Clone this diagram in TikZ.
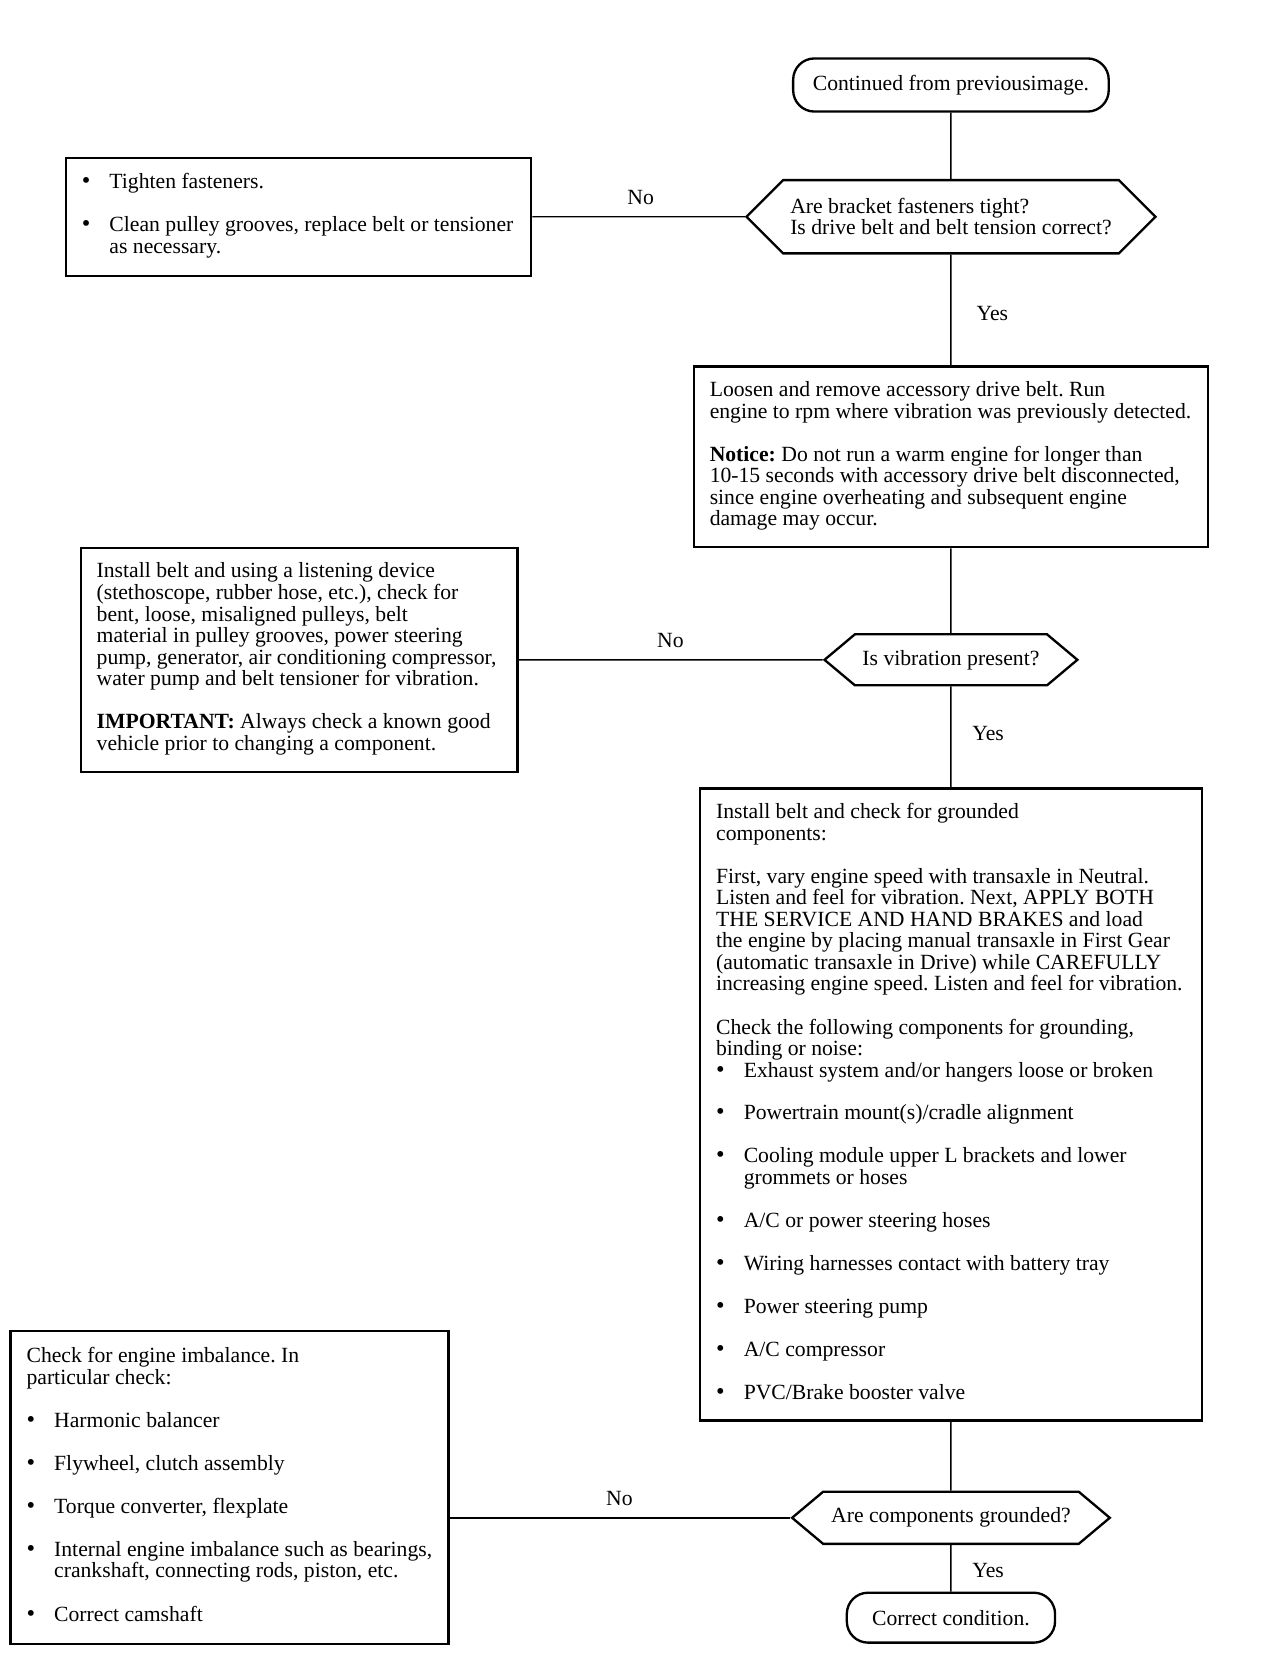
\documentclass[tikz,border=0pt]{standalone}
\usepackage{fontspec}
\setmainfont{Liberation Serif}
\usepackage{tikz}
\usetikzlibrary{shapes.symbols}

\newcommand{\bul}{\makebox[13pt][l]{\fontsize{11.5}{10}\selectfont\textbullet}}
\newcommand{\ind}{\hspace*{13pt}}
\newcommand{\skipline}{\\[10.1pt]}
\newcommand{\boxlines}[2]{\makebox[#1][l]{\begin{tabular}{@{}l@{}}#2\end{tabular}}}

\begin{document}
\begin{tikzpicture}[x=0.5pt,y=-0.5pt,
  every node/.style={font=\fontsize{10.2}{10.1}\selectfont\frenchspacing},
  box/.style={draw,line width=1.1pt,inner xsep=7.5pt,inner ysep=3pt},
  decision/.style={draw,line width=1.1pt,signal,signal to=west and east,inner sep=2pt,align=left},
  terminal/.style={draw,line width=1.1pt,rounded corners=10pt,inner sep=2pt},
  link/.style={line width=0.7pt}]
\useasboundingbox (0,0) rectangle (1190,1568);
% right column
\node[terminal,minimum width=148.5pt,minimum height=25pt] (cont) at (895,80) {Continued from previousimage.};
\node[decision,minimum width=192.5pt,minimum height=34.5pt,signal pointer angle=90] (brackets) at (895,204)
  {Are bracket fasteners tight?\\Is drive belt and belt tension correct?};
\node[box,minimum height=85pt] (loosen) at (895,430) {\boxlines{227pt}{%
Loosen and remove accessory drive belt. Run\\
engine to rpm where vibration was previously detected.\skipline
\textbf{Notice:} Do not run a warm engine for longer than\\
10-15 seconds with accessory drive belt disconnected,\\
since engine overheating and subsequent engine\\
damage may occur.}};
\node[decision,minimum width=119pt,minimum height=24pt,signal pointer angle=80] (vibration) at (895,621) {Is vibration present?};
\node[box,minimum height=297.5pt] (grounded) at (895,1039.5) {\boxlines{221pt}{%
Install belt and check for grounded\\
components:\skipline
First, vary engine speed with transaxle in Neutral.\\
Listen and feel for vibration. Next, APPLY BOTH\\
THE SERVICE AND HAND BRAKES and load\\
the engine by placing manual transaxle in First Gear\\
(automatic transaxle in Drive) while CAREFULLY\\
increasing engine speed. Listen and feel for vibration.\skipline
Check the following components for grounding,\\
binding or noise:\\
\bul Exhaust system and/or hangers loose or broken\skipline
\bul Powertrain mount(s)/cradle alignment\skipline
\bul Cooling module upper L brackets and lower\\
\ind grommets or hoses\skipline
\bul A/C or power steering hoses\skipline
\bul Wiring harnesses contact with battery tray\skipline
\bul Power steering pump\skipline
\bul A/C compressor\skipline
\bul PVC/Brake booster valve}};
\node[decision,minimum width=149.5pt,minimum height=24.5pt,signal pointer angle=80] (grndq) at (895,1428.5) {Are components grounded?};
\node[terminal,minimum width=98pt,minimum height=23.5pt] (correct) at (895,1522.5) {Correct condition.};
% left column
\node[box,minimum height=55.5pt] (tighten) at (281,204) {\boxlines{204pt}{%
\bul Tighten fasteners.\skipline
\bul Clean pulley grooves, replace belt or tensioner\\
\ind as necessary.}};
\node[box,minimum height=105.5pt] (listen) at (281.5,621) {\boxlines{190.5pt}{%
Install belt and using a listening device\\
(stethoscope, rubber hose, etc.), check for\\
bent, loose, misaligned pulleys, belt\\
material in pulley grooves, power steering\\
pump, generator, air conditioning compressor,\\
water pump and belt tensioner for vibration.\skipline
\textbf{IMPORTANT:} Always check a known good\\
vehicle prior to changing a component.}};
\node[box,minimum height=147pt] (imbalance) at (216,1400) {\boxlines{191pt}{%
Check for engine imbalance. In\\
particular check:\skipline
\bul Harmonic balancer\skipline
\bul Flywheel, clutch assembly\skipline
\bul Torque converter, flexplate\skipline
\bul Internal engine imbalance such as bearings,\\
\ind crankshaft, connecting rods, piston, etc.\skipline
\bul Correct camshaft}};
% connectors
\draw[link] (cont) -- (brackets);
\draw[link] (brackets) -- (tighten);
\draw[link] (brackets) -- (loosen);
\draw[link] (loosen) -- (vibration);
\draw[link] (vibration) -- (listen);
\draw[link] (vibration) -- (grounded);
\draw[link] (grounded) -- (grndq);
\draw[link] (grndq.west) -- (grndq.west -| imbalance.east);
\draw[link] (grndq) -- (correct);
% labels
\node (no1) at (603,186) {No};
\node (yes1) at (934,295) {Yes};
\node (no2) at (631,603) {No};
\node (yes2) at (930,690) {Yes};
\node (no3) at (583,1410) {No};
\node (yes3) at (930,1478) {Yes};
\end{tikzpicture}
\end{document}
